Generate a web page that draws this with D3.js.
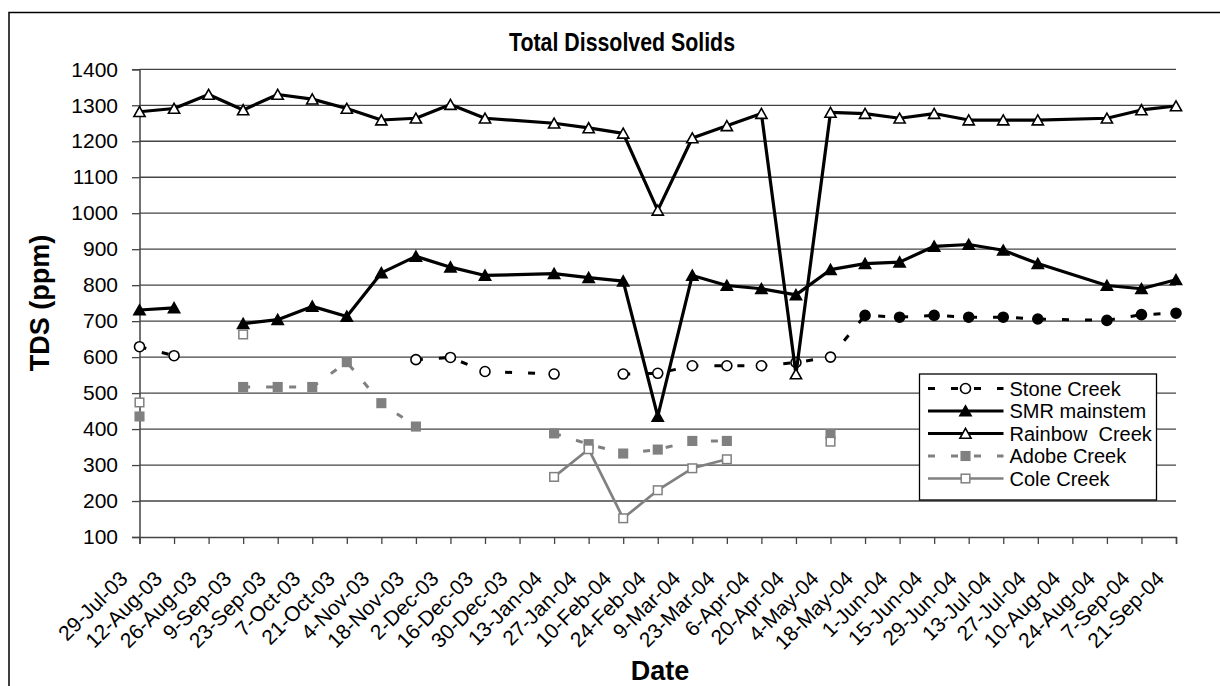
<!DOCTYPE html>
<html>
<head>
<meta charset="utf-8">
<script src="https://cdn.jsdelivr.net/npm/d3@7"></script>
<style>
  body { margin: 0; background: #fff; }
  svg text { font-family: "Liberation Sans", Arial, sans-serif; fill: #000; }
</style>
</head>
<body>
<div id="chart"></div>
<script>
// tick labels on the date axis (every 14 days)
const tickLabels = ['29-Jul-03', '12-Aug-03', '26-Aug-03', '9-Sep-03', '23-Sep-03', '7-Oct-03',
    '21-Oct-03', '4-Nov-03', '18-Nov-03', '2-Dec-03', '16-Dec-03', '30-Dec-03', '13-Jan-04',
    '27-Jan-04', '10-Feb-04', '24-Feb-04', '9-Mar-04', '23-Mar-04', '6-Apr-04', '20-Apr-04',
    '4-May-04', '18-May-04', '1-Jun-04', '15-Jun-04', '29-Jun-04', '13-Jul-04', '27-Jul-04',
    '10-Aug-04', '24-Aug-04', '7-Sep-04', '21-Sep-04']

// sampling dates (rows of the sheet)
const sampleDates = ['29-Jul-03', '12-Aug-03', '26-Aug-03', '9-Sep-03', '23-Sep-03', '7-Oct-03',
    '21-Oct-03', '4-Nov-03', '18-Nov-03', '2-Dec-03', '16-Dec-03', '13-Jan-04', '27-Jan-04',
    '10-Feb-04', '24-Feb-04', '9-Mar-04', '23-Mar-04', '6-Apr-04', '20-Apr-04', '4-May-04',
    '18-May-04', '1-Jun-04', '15-Jun-04', '29-Jun-04', '13-Jul-04', '27-Jul-04', '24-Aug-04',
    '7-Sep-04', '21-Sep-04']

// TDS (ppm), null = no sample
const stoneCreek = [629, 604, null, null, null, null, null, null, 593, 599, 560, 553, null,
    553, 555, 576, 576, 576, 585, 600, 716, 711, 716, 711, 711, 706, 702, 718, 722]
const smrMainstem = [731, 737, null, 693, 704, 741, 713, 834, 880, 850, 827, 832, 821,
    811, 435, 827, 799, 790, 773, 843, 860, 864, 908, 913, 897, 860, 799, 790, 815]
const rainbowCreek = [1282, 1291, 1330, 1287, 1330, 1317, 1291, 1259, 1264, 1302, 1264, 1250, 1237,
    1222, 1008, 1209, 1243, 1277, 553, 1280, 1277, 1264, 1277, 1259, 1259, 1259, 1264, 1287, 1298]
const adobeCreek = [435, null, null, 517, 517, 517, 586, 472, 407, null, null, 388, 358,
    332, 343, 367, 367, null, null, 386, null, null, null, null, null, null, null, null, null]
const coleCreek = [474, null, null, 663, null, null, null, null, null, null, null, 267, 344,
    152, 230, 291, 316, null, null, 365, null, null, null, null, null, null, null, null, null]

const yTicks = [100, 200, 300, 400, 500, 600, 700, 800, 900, 1000, 1100, 1200, 1300, 1400]

const seriesNames = ['Stone Creek', 'SMR mainstem', 'Rainbow  Creek', 'Adobe Creek', 'Cole Creek']

const parse = d3.timeParse('%d-%b-%y')

const series = [
    { name: seriesNames[0], values: stoneCreek, color: '#000', width: 3, dash: '7,16', marker: 'circle' },
    { name: seriesNames[1], values: smrMainstem, color: '#000', width: 3.2, dash: null, marker: 'triFilled' },
    { name: seriesNames[2], values: rainbowCreek, color: '#000', width: 3.2, dash: null, marker: 'triOpen' },
    { name: seriesNames[3], values: adobeCreek, color: '#808080', width: 3, dash: '7,16', marker: 'sqFilled' },
    { name: seriesNames[4], values: coleCreek, color: '#808080', width: 2.7, dash: null, marker: 'sqOpen' }
]
// later Stone Creek points were drawn with solid markers
const stoneSolidFrom = parse('18-May-04')

series.forEach(s => {
    s.points = sampleDates.map((d, i) => ({ date: parse(d), value: s.values[i] }))
})

const W = 1220, H = 686
const plot = { left: 139.5, right: 1176, top: 69.3, bottom: 537 }

const svg = d3.select('#chart').append('svg')
    .attr('width', W)
    .attr('height', H)

// outer chart frame
svg.append('rect')
    .attr('x', 9).attr('y', 12.5)
    .attr('width', W).attr('height', H)
    .attr('fill', 'none')
    .attr('stroke', '#000')
    .attr('stroke-width', 1.5)

const tickDates = tickLabels.map(parse)

const xScale = d3.scaleTime()
    .domain([tickDates[0], tickDates[tickDates.length - 1]])
    .range([plot.left, plot.right])

const yScale = d3.scaleLinear()
    .domain([100, 1400])
    .range([plot.bottom, plot.top])

// gridlines
svg.append('g')
    .selectAll('line')
    .data(yTicks.filter(v => v > 100))
    .join('line')
    .attr('x1', plot.left).attr('x2', plot.right)
    .attr('y1', d => yScale(d)).attr('y2', d => yScale(d))
    .attr('stroke', '#444')
    .attr('stroke-width', 1.3)

// y axis
const yAxis = svg.append('g')
    .attr('transform', `translate(${plot.left},0)`)
    .call(d3.axisLeft(yScale).tickValues(yTicks).tickFormat(d3.format('d')).tickSize(7.5).tickPadding(14))
yAxis.select('.domain').attr('stroke', '#444').attr('stroke-width', 1.5)
yAxis.selectAll('.tick line').attr('stroke', '#444').attr('stroke-width', 1.3)
yAxis.selectAll('.tick text')
    .attr('font-size', 21)
    .attr('font-family', '"Liberation Sans", Arial, sans-serif')
    .attr('fill', '#000')

// x axis
const xAxis = svg.append('g')
    .attr('transform', `translate(0,${plot.bottom})`)
    .call(d3.axisBottom(xScale).tickValues(tickDates).tickSize(7).tickFormat((d, i) => tickLabels[i]))
xAxis.select('.domain').attr('stroke', '#444').attr('stroke-width', 1.5)
xAxis.selectAll('.tick line').attr('stroke', '#444').attr('stroke-width', 1.3)
xAxis.selectAll('.tick text')
    .attr('font-size', 21)
    .attr('font-family', '"Liberation Sans", Arial, sans-serif')
    .attr('fill', '#000')
    .attr('text-anchor', 'end')
    .attr('dy', 0)
    .attr('y', 0)
    .attr('transform', 'translate(-11,43) rotate(-45)')

// series
const line = d3.line()
    .defined(d => d.value != null)
    .x(d => xScale(d.date))
    .y(d => yScale(d.value))

function drawMarker(g, type, color, filledBlack) {
    if (type === 'circle') {
        g.append('circle').attr('r', 5)
            .attr('fill', filledBlack ? '#000' : '#fff')
            .attr('stroke', '#000').attr('stroke-width', 1.6)
    } else if (type === 'triFilled' || type === 'triOpen') {
        g.append('path').attr('d', 'M0,-5.2L5.6,4.8L-5.6,4.8Z')
            .attr('fill', type === 'triFilled' ? '#000' : '#fff')
            .attr('stroke', '#000').attr('stroke-width', 1.6)
            .attr('stroke-linejoin', 'miter')
    } else {
        g.append('rect').attr('x', -4.3).attr('y', -4.3).attr('width', 8.6).attr('height', 8.6)
            .attr('fill', type === 'sqFilled' ? color : '#fff')
            .attr('stroke', color).attr('stroke-width', 1.5)
    }
}

series.forEach(s => {
    svg.append('path')
        .datum(s.points)
        .attr('d', line)
        .attr('fill', 'none')
        .attr('stroke', s.color)
        .attr('stroke-width', s.width)
        .attr('stroke-dasharray', s.dash)
        .attr('stroke-linejoin', 'round')

    s.points.filter(d => d.value != null).forEach(d => {
        const g = svg.append('g')
            .attr('transform', `translate(${xScale(d.date)},${yScale(d.value)})`)
        drawMarker(g, s.marker, s.color, s.marker === 'circle' && d.date >= stoneSolidFrom)
    })
})

// title and axis titles
svg.append('text')
    .attr('x', 622).attr('y', 51)
    .attr('text-anchor', 'middle')
    .attr('font-size', 25)
    .attr('font-weight', 'bold')
    .attr('textLength', 226)
    .attr('lengthAdjust', 'spacingAndGlyphs')
    .text('Total Dissolved Solids')

svg.append('text')
    .attr('transform', 'translate(49,303) rotate(-90)')
    .attr('text-anchor', 'middle')
    .attr('font-size', 27)
    .attr('font-weight', 'bold')
    .text('TDS (ppm)')

svg.append('text')
    .attr('x', 660).attr('y', 680)
    .attr('text-anchor', 'middle')
    .attr('font-size', 27)
    .attr('font-weight', 'bold')
    .text('Date')

// legend
const legend = svg.append('g').attr('transform', 'translate(919.5,374)')
legend.append('rect')
    .attr('width', 237).attr('height', 126)
    .attr('fill', '#fff')
    .attr('stroke', '#000')
    .attr('stroke-width', 1.3)

series.forEach((s, i) => {
    const row = legend.append('g').attr('transform', `translate(0,${14.5 + i * 22.5})`)
    row.append('line')
        .attr('x1', 8.5).attr('x2', 84)
        .attr('stroke', s.color)
        .attr('stroke-width', s.width)
        .attr('stroke-dasharray', s.dash)
    drawMarker(row.append('g').attr('transform', 'translate(46,0)'), s.marker, s.color, false)
    row.append('text')
        .attr('x', 90).attr('y', 0)
        .attr('dy', '0.35em')
        .attr('font-size', 20)
        .style('white-space', 'pre')
        .text(s.name)
})
</script>
</body>
</html>
